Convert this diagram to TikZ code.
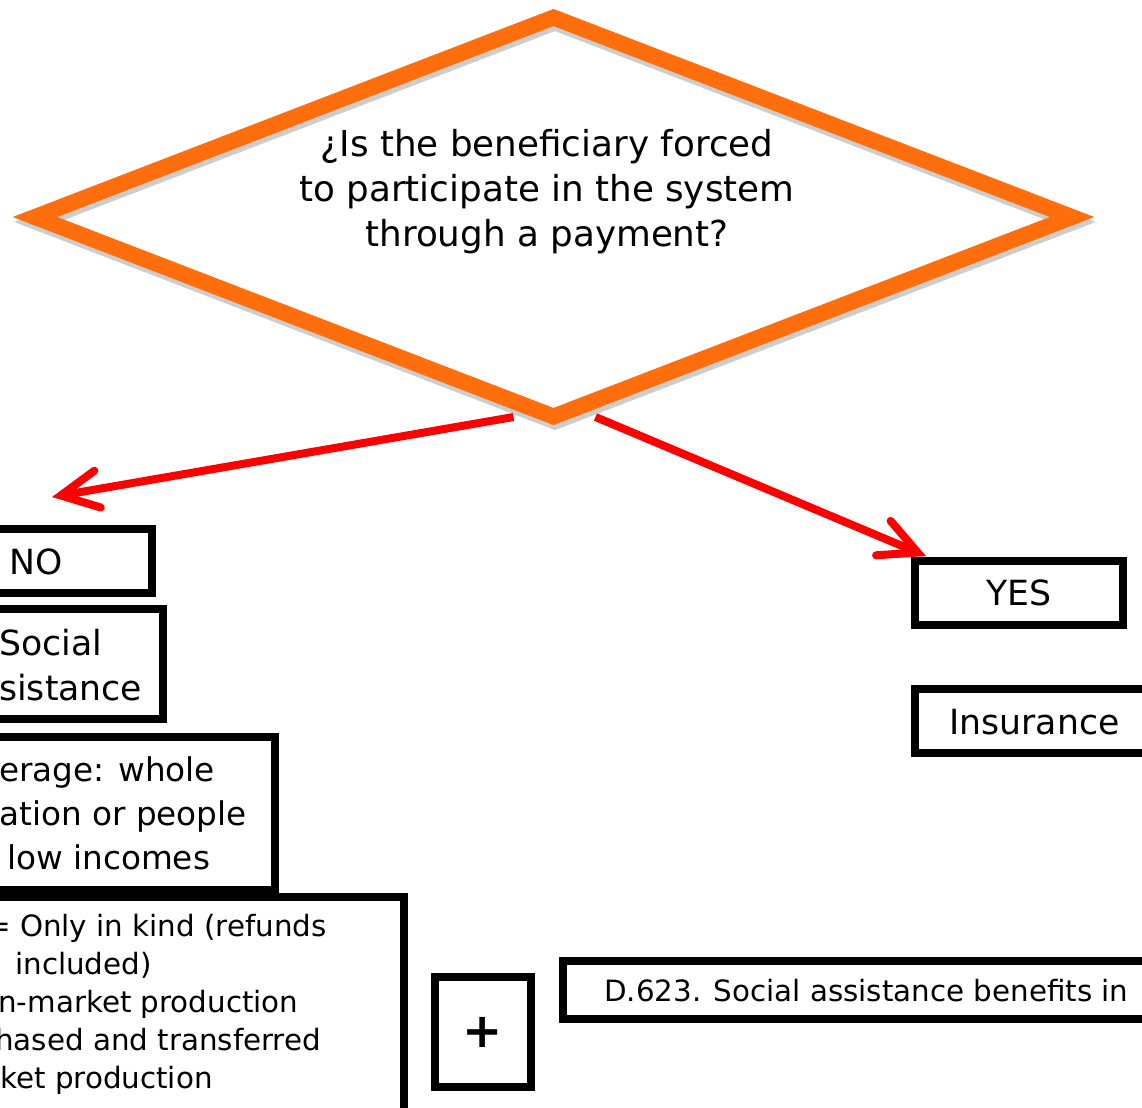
\documentclass[tikz,border=0pt]{standalone}
\usepackage{fontspec}
\setmainfont{DejaVu Sans}
\usetikzlibrary{shapes.geometric,arrows.meta,fit,calc}
\definecolor{qorange}{RGB}{255,110,12}
\definecolor{arrred}{RGB}{255,0,0}
\definecolor{shadowgray}{RGB}{205,205,205}
\begin{document}
\begin{tikzpicture}[x=0.75pt,y=-0.75pt,
  box/.style={draw=black,line width=6pt,inner sep=0pt,outer sep=0pt},
  decision/.style={shape=diamond,line width=12pt,inner sep=0pt,outer sep=0pt,
    minimum width=777.75pt,minimum height=299.25pt},
  qtext/.style={font=\fontsize{26.8}{33.75}\selectfont,align=center,inner sep=0pt},
  bigtext/.style={font=\fontsize{26}{33.75}\selectfont,inner sep=0pt},
  covtext/.style={font=\fontsize{24.5}{33}\selectfont,inner sep=0pt},
  smalltext/.style={font=\fontsize{22}{28.5}\selectfont,inner sep=0pt},
  link/.style={draw=arrred,line width=6pt,
    -{Straight Barb[length=28pt,width=28pt,line cap=round,line join=miter]}}
]
\useasboundingbox (0,0) rectangle (1142,1107);
\clip (0,0) rectangle (1142,1107);

% decision diamond with its shadow
\node[decision,draw=shadowgray] (qshadow) at (555,222) {};
\node[decision,draw=qorange] (q) at (553.5,217) {};
\node[qtext] (qt) at (547,192) {¿Is the beneficiary forced\\to participate in the system\\through a payment?};

% left column
\node[box,fit={(-100,529) (151.7,593)}] (no) {};
\node[bigtext,anchor=base west] (tno) at (9,574.5) {NO};

\node[box,fit={(-100,609) (163,719)}] (soc) {};
\node[bigtext,align=left,anchor=base west] (tsoc) at (-1,700) {Social\\sistance};

\node[box,fit={(-100,736.7) (275,890)}] (cov) {};
\node[covtext,align=left,anchor=base west] (tcov) at (-1,869) {erage: whole\\ation or people\\\hspace*{6pt}low incomes};

\node[box,fit={(-100,897) (403.5,1200)}] (ben) {};
\node[smalltext,align=left,anchor=base west] (tben) at (-14,1088)
  {= Only in kind (refunds\\\hspace*{21.75pt}included)\\\hspace*{9pt}n-market production\\\hspace*{6.75pt}hased and transferred\\\hspace*{10.5pt}ket production};

% plus
\node[box,minimum width=72pt,minimum height=82.5pt,
  font=\bfseries\fontsize{36}{36}\selectfont] (plus) at (483,1032) {+};

% right column
\node[box,minimum width=156pt,minimum height=48pt,bigtext] (yes) at (1019,593) {YES};

\node[box,fit={(915,689) (1300,753)}] (ins) {};
\node[bigtext,anchor=base west] (tins) at (949,734) {Insurance};

\node[box,fit={(563,961) (1300,1019)}] (d623) {};
\node[smalltext,anchor=base west] (td623) at (604,1001) {D.623. Social assistance benefits in};

% connectors
\coordinate (ls) at ($(q.south)+(-40,0.5)$);
\coordinate (lt) at (52,497);
\coordinate (rs) at ($(q.south)+(42,0.5)$);
\coordinate (rt) at (926,556);
\draw[link] (ls) -- (lt);
\draw[link] (rs) -- (rt);
\end{tikzpicture}
\end{document}
